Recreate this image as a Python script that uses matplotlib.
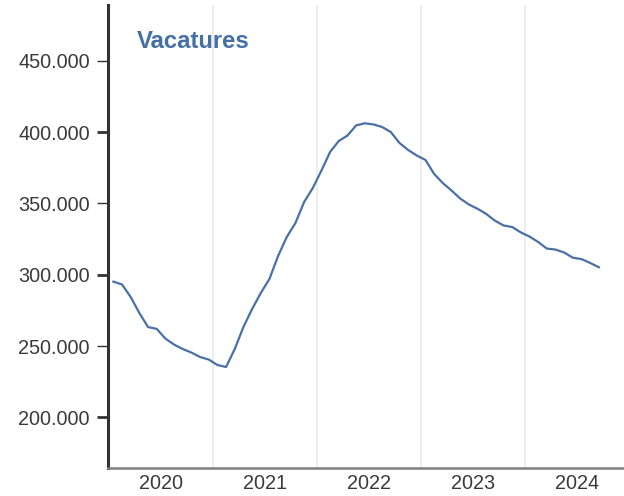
import matplotlib
matplotlib.use("Agg")
import matplotlib.pyplot as plt
from matplotlib.ticker import FixedLocator, FuncFormatter, NullFormatter

# Monthly data Jan 2020 .. Sep 2024
start_year = 2020
vacatures = [
    295200, 293200, 284400, 273200, 263400, 262100, 255300, 251100, 248000, 245500,
    242400, 240600, 236800, 235400, 248000, 263400, 276000, 287200, 297100, 313200,
    326500, 336300, 351000, 360800, 373100, 386100, 393800, 397600, 404700, 406200,
    405400, 403600, 400100, 392400, 387500, 383600, 380500, 370700, 364300, 359100,
    353500, 349300, 346300, 342700, 338000, 334600, 333500, 329700, 326800, 323000,
    318400, 317700, 315600, 312000, 311000, 308300, 305300,
]
year_labels = ["2020", "2021", "2022", "2023", "2024"]
major_y = [200000, 300000, 400000]
minor_y = [250000, 350000, 450000]
title = "Vacatures"

x = [start_year + (i + 0.5) / 12 for i in range(len(vacatures))]

plt.rcParams['font.family'] = ['Liberation Sans', 'DejaVu Sans']

fig = plt.figure(figsize=(6.24, 4.96), dpi=100)
ax = fig.add_axes([108 / 624, 1 - 468 / 496, 516 / 624, 463 / 496])

line_color = '#4a70a5'
ax.plot(x, vacatures, color=line_color, lw=1.6, solid_joinstyle='round')

ax.set_xlim(2019.99, 2024.95)
ax.set_ylim(164600, 489100)

# x: gridlines at year boundaries, labels at mid-year
ax.xaxis.set_major_locator(FixedLocator([2021, 2022, 2023, 2024]))
ax.xaxis.set_major_formatter(NullFormatter())
ax.xaxis.set_minor_locator(FixedLocator([int(y) + 0.5 for y in year_labels]))
ax.xaxis.set_minor_formatter(FuncFormatter(lambda v, p: str(int(v))))
ax.tick_params(axis='x', which='both', length=0)
ax.tick_params(axis='x', which='minor', labelsize=14.3, colors='#3a3a3a', pad=4)
ax.grid(axis='x', which='major', color='#ececec', lw=1.3)

fmt = FuncFormatter(lambda v, p: f"{int(v):,}".replace(",", "."))
ax.yaxis.set_major_locator(FixedLocator(major_y))
ax.yaxis.set_minor_locator(FixedLocator(minor_y))
ax.yaxis.set_major_formatter(fmt)
ax.yaxis.set_minor_formatter(fmt)
ax.tick_params(axis='y', which='major', length=8, width=2.0, color='#333333',
               labelsize=14.3, labelcolor='#3a3a3a', pad=5)
ax.tick_params(axis='y', which='minor', length=8, width=1.0, color='#333333',
               labelsize=14.3, labelcolor='#3a3a3a', pad=5)

for s in ['top', 'right']:
    ax.spines[s].set_visible(False)
ax.spines['left'].set_color('#333333')
ax.spines['left'].set_linewidth(2.2)
ax.spines['bottom'].set_color('#808080')
ax.spines['bottom'].set_linewidth(1.8)

ax.text(136.5 / 624, 1 - 41 / 496, title, transform=fig.transFigure,
        fontsize=17.2, fontweight='bold', color='#4470a6', ha='left', va='center')

fig.savefig("out.png", dpi=100)
